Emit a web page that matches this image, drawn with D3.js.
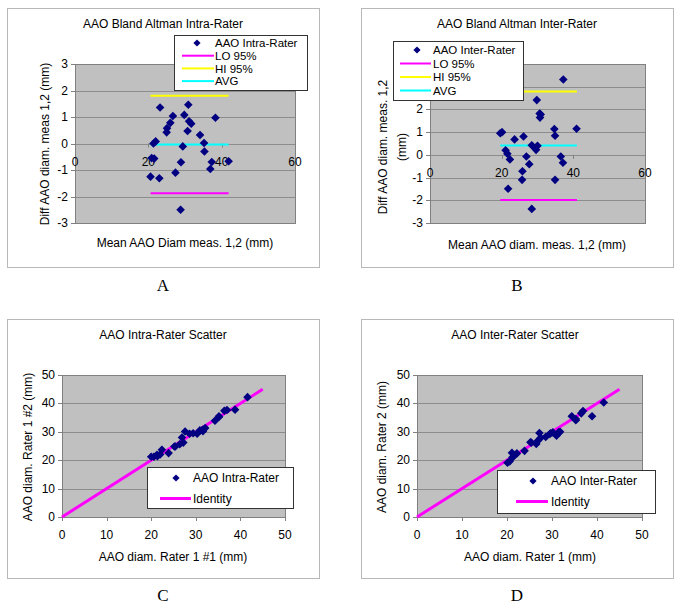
<!DOCTYPE html>
<html><head><meta charset="utf-8">
<script src="https://cdn.jsdelivr.net/npm/d3@7"></script>
<style>body{margin:0;background:#fff}svg{display:block}</style>
</head><body>
<svg id="c" width="685" height="615"></svg>
<script>
// ---------- DATA ----------
// Panel A: Bland-Altman intra-rater
const intraMean = [23.2, 30.9, 38.3, 26.7, 29.8, 26.0, 25.1, 25.0, 31.1, 31.7, 30.7, 34.1, 35.2, 35.3, 21.4, 22.0, 29.4, 20.9, 21.6, 28.9, 37.3, 41.9, 36.9, 27.4, 20.6, 23.0, 28.8];
const intraDiff = [1.36, 1.46, 0.97, 1.04, 1.08, 0.78, 0.58, 0.42, 0.84, 0.75, 0.47, 0.32, 0.02, -0.30, 0.00, 0.08, -0.11, -0.55, -0.57, -0.71, -0.70, -0.67, -0.96, -1.10, -1.25, -1.31, -2.50];
const intraLimitX = [20.6, 41.9];
const intraLimits = {lo: -1.88, hi: 1.80, avg: -0.04};
// Panel B: Bland-Altman inter-rater
const interMean = [37.2, 29.8, 30.6, 30.9, 30.7, 20.1, 19.6, 23.6, 26.1, 34.7, 34.9, 40.9, 28.4, 29.3, 30.0, 29.6, 21.1, 21.6, 22.3, 26.9, 27.7, 25.8, 25.7, 36.5, 37.1, 34.9, 21.8, 28.4];
const interDiff = [3.32, 2.41, 1.82, 1.78, 1.64, 1.00, 0.95, 0.68, 0.81, 1.14, 0.84, 1.15, 0.42, 0.30, 0.40, 0.22, 0.20, 0.05, -0.20, -0.07, -0.41, -0.72, -1.10, -0.07, -0.35, -1.10, -1.49, -2.38];
const interLimitX = [19.6, 41.0];
const interLimits = {lo: -1.99, hi: 2.79, avg: 0.41};
// Panel C: intra-rater scatter
const intraRater1a = [23.9, 31.6, 38.8, 27.2, 30.3, 26.4, 25.4, 25.2, 31.5, 32.1, 30.9, 34.3, 35.2, 35.2, 21.4, 22.0, 29.4, 20.6, 21.3, 28.6, 37.0, 41.6, 36.4, 26.9, 20.0, 22.4, 27.6];
const intraRater1b = [22.5, 30.2, 37.8, 26.2, 29.3, 25.6, 24.8, 24.8, 30.7, 31.3, 30.5, 33.9, 35.2, 35.5, 21.4, 22.0, 29.5, 21.2, 21.9, 29.3, 37.7, 42.2, 37.4, 28.0, 21.2, 23.7, 30.1];
// Panel D: inter-rater scatter
const interRater1 = [38.9, 31.0, 31.5, 31.8, 31.5, 20.6, 20.1, 23.9, 26.5, 35.3, 35.3, 41.5, 28.6, 29.5, 30.2, 29.7, 21.2, 21.6, 22.2, 26.9, 27.5, 25.4, 25.2, 36.5, 36.9, 34.4, 21.1, 27.2];
const interRater2 = [35.5, 28.6, 29.7, 30.0, 29.9, 19.6, 19.1, 23.3, 25.7, 34.1, 34.5, 40.3, 28.2, 29.2, 29.8, 29.5, 21.0, 21.6, 22.4, 26.9, 27.9, 26.2, 26.3, 36.5, 37.3, 35.5, 22.6, 29.6];
const identityX = [0, 45];
// tick labels
const baXTicks = [0, 20, 40, 60];
const intraBAYTicks = [-3, -2, -1, 0, 1, 2, 3];
const interBAYTicks = [-3, -2, -1, 0, 1, 2, 3, 4];
const scatterTicks = [0, 10, 20, 30, 40, 50];

// ---------- STYLE ----------
const FONT = "'Liberation Sans', Arial, sans-serif";
const SERIF = "'Liberation Serif', 'Times New Roman', serif";
const NAVY = "#000080", MAG = "#ff00ff", YEL = "#ffff00", CYN = "#00ffff";
const PLOTFILL = "#c0c0c0", GRID = "#8c8c8c", PLOTBORDER = "#808080";
const svg = d3.select("#c");
const diamond = r => `M0,${-r}L${r},0L0,${r}L${-r},0Z`;

function text(g, x, y, s, opt = {}) {
  const t = g.append("text").attr("x", x).attr("y", y).text(s)
    .attr("font-family", opt.family || FONT).attr("font-size", opt.size || 12)
    .attr("fill", "#000").attr("text-anchor", opt.anchor || "start");
  if (opt.rotate) t.attr("transform", `rotate(-90,${x},${y})`);
  return t;
}

function panel(cfg) {
  const g = svg.append("g");
  const f = cfg.frame;
  g.append("rect").attr("x", f[0] + .5).attr("y", f[1] + .5)
    .attr("width", f[2] - f[0]).attr("height", f[3] - f[1])
    .attr("fill", "#fff").attr("stroke", "#b8b8b8");
  const p = cfg.plot;
  const x = d3.scaleLinear().domain(cfg.xDomain).range([p.l, p.r]);
  const y = d3.scaleLinear().domain(cfg.yDomain).range([p.b, p.t]);
  g.append("rect").attr("x", p.l + .5).attr("y", p.t + .5)
    .attr("width", p.r - p.l).attr("height", p.b - p.t)
    .attr("fill", PLOTFILL).attr("stroke", "none");
  // gridlines
  cfg.yTicks.forEach(t => {
    const yy = Math.round(y(t)) + .5;
    g.append("line").attr("x1", p.l).attr("x2", p.r).attr("y1", yy).attr("y2", yy)
      .attr("stroke", GRID).attr("stroke-width", 1);
    g.append("line").attr("x1", p.l - 4).attr("x2", p.l).attr("y1", yy).attr("y2", yy)
      .attr("stroke", PLOTBORDER);
    text(g, p.l - 7, y(t) + 4, String(t), {anchor: "end"});
  });
  g.append("rect").attr("x", p.l + .5).attr("y", p.t + .5)
    .attr("width", p.r - p.l).attr("height", p.b - p.t)
    .attr("fill", "none").attr("stroke", PLOTBORDER);
  // x axis labels
  const xAxisY = cfg.xAxisAt !== undefined ? y(cfg.xAxisAt) : p.b;
  cfg.xTicks.forEach(t => {
    const xx = Math.round(x(t)) + .5;
    g.append("line").attr("x1", xx).attr("x2", xx).attr("y1", xAxisY).attr("y2", xAxisY + 4)
      .attr("stroke", PLOTBORDER);
    text(g, x(t), xAxisY + cfg.xLabelDy, String(t), {anchor: "middle"});
  });
  // titles
  text(g, cfg.titlePos[0], cfg.titlePos[1], cfg.title, {anchor: "middle"});
  text(g, cfg.xTitlePos[0], cfg.xTitlePos[1], cfg.xTitle, {anchor: "middle"});
  cfg.yTitle.forEach((s, i) => {
    text(g, cfg.yTitlePos[i][0], cfg.yTitlePos[i][1], s, {anchor: "middle", rotate: true});
  });
  text(g, cfg.letterPos[0], cfg.letterPos[1], cfg.letter, {anchor: "middle", family: SERIF, size: 17});
  return {g, x, y};
}

function legend(g, box, entries) {
  g.append("rect").attr("x", box.x + .5).attr("y", box.y + .5)
    .attr("width", box.w).attr("height", box.h)
    .attr("fill", "#fff").attr("stroke", "#333");
  entries.forEach((e, i) => {
    const yy = box.y + box.first + i * box.step;
    if (e.type === "marker") {
      g.append("path").attr("d", diamond(3.6)).attr("fill", NAVY)
        .attr("transform", `translate(${box.mx},${yy})`);
    } else {
      g.append("line").attr("x1", box.lx0).attr("x2", box.lx1).attr("y1", yy).attr("y2", yy)
        .attr("stroke", e.color).attr("stroke-width", e.width || 2);
    }
    text(g, box.tx, yy + box.fs * 0.36, e.label, {size: box.fs});
  });
}

function baPanel(cfg, mean, diff, limX, lim) {
  const {g, x, y} = panel(cfg);
  [[lim.lo, MAG], [lim.hi, YEL], [lim.avg, CYN]].forEach(([v, c]) => {
    g.append("line").attr("x1", x(limX[0])).attr("x2", x(limX[1]))
      .attr("y1", y(v)).attr("y2", y(v)).attr("stroke", c).attr("stroke-width", 2);
  });
  g.selectAll(null).data(mean.map((m, i) => [m, diff[i]])).join("path")
    .attr("d", diamond(4.3)).attr("fill", NAVY)
    .attr("transform", d => `translate(${x(d[0])},${y(d[1])})`);
  legend(g, cfg.legend, [
    {type: "marker", label: cfg.seriesName},
    {type: "line", color: MAG, label: "LO 95%"},
    {type: "line", color: YEL, label: "HI 95%"},
    {type: "line", color: CYN, label: "AVG"}
  ]);
}

function scPanel(cfg, xs, ys) {
  const {g, x, y} = panel(cfg);
  g.append("line").attr("x1", x(identityX[0])).attr("y1", y(identityX[0]))
    .attr("x2", x(identityX[1])).attr("y2", y(identityX[1]))
    .attr("stroke", MAG).attr("stroke-width", 3);
  g.selectAll(null).data(xs.map((v, i) => [v, ys[i]])).join("path")
    .attr("d", diamond(4.3)).attr("fill", NAVY)
    .attr("transform", d => `translate(${x(d[0])},${y(d[1])})`);
  legend(g, cfg.legend, [
    {type: "marker", label: cfg.seriesName},
    {type: "line", color: MAG, label: "Identity", width: 3}
  ]);
}

// ---------- PANELS ----------
baPanel({
  frame: [7, 8, 319, 267], plot: {l: 75, t: 64, r: 295, b: 223},
  xDomain: [0, 60], yDomain: [-3, 3], xTicks: baXTicks, yTicks: intraBAYTicks,
  xAxisAt: 0, xLabelDy: 22,
  title: "AAO Bland Altman Intra-Rater", titlePos: [163, 28],
  xTitle: "Mean AAO Diam meas. 1,2 (mm)", xTitlePos: [185, 247],
  yTitle: ["Diff AAO diam. meas 1,2 (mm)"], yTitlePos: [[49, 144]],
  letter: "A", letterPos: [163, 291], seriesName: "AAO Intra-Rater",
  legend: {x: 174, y: 35, w: 133, h: 55, first: 8, step: 12.7, fs: 11.5, mx: 197, lx0: 182, lx1: 214, tx: 215}
}, intraMean, intraDiff, intraLimitX, intraLimits);

baPanel({
  frame: [361, 8, 673, 267], plot: {l: 430, t: 64, r: 645, b: 223},
  xDomain: [0, 60], yDomain: [-3, 4], xTicks: baXTicks, yTicks: interBAYTicks,
  xAxisAt: 0, xLabelDy: 22,
  title: "AAO Bland Altman Inter-Rater", titlePos: [517, 28],
  xTitle: "Mean AAO diam. meas. 1,2 (mm)", xTitlePos: [537, 249],
  yTitle: ["Diff AAO diam. meas. 1,2", "(mm)"], yTitlePos: [[387, 147], [406, 147]],
  letter: "B", letterPos: [517, 291], seriesName: "AAO Inter-Rater",
  legend: {x: 393, y: 41, w: 130, h: 59, first: 9, step: 13.5, fs: 11.5, mx: 417, lx0: 400, lx1: 431, tx: 433}
}, interMean, interDiff, interLimitX, interLimits);

scPanel({
  frame: [7, 319, 319, 578], plot: {l: 62, t: 375, r: 285, b: 517},
  xDomain: [0, 50], yDomain: [0, 50], xTicks: scatterTicks, yTicks: scatterTicks,
  xLabelDy: 22,
  title: "AAO Intra-Rater Scatter", titlePos: [163, 339],
  xTitle: "AAO diam. Rater 1 #1 (mm)", xTitlePos: [173, 561],
  yTitle: ["AAO diam. Rater 1 #2 (mm)"], yTitlePos: [[32, 447]],
  letter: "C", letterPos: [163, 601], seriesName: "AAO Intra-Rater",
  legend: {x: 147, y: 467, w: 146, h: 41, first: 11, step: 20.5, fs: 12, mx: 176, lx0: 160, lx1: 191, tx: 193}
}, intraRater1a, intraRater1b);

scPanel({
  frame: [361, 319, 673, 578], plot: {l: 417, t: 375, r: 642, b: 517},
  xDomain: [0, 50], yDomain: [0, 50], xTicks: scatterTicks, yTicks: scatterTicks,
  xLabelDy: 22,
  title: "AAO Inter-Rater Scatter", titlePos: [515, 339],
  xTitle: "AAO diam. Rater 1 (mm)", xTitlePos: [530, 561],
  yTitle: ["AAO diam. Rater 2 (mm)"], yTitlePos: [[386, 447]],
  letter: "D", letterPos: [517, 601], seriesName: "AAO Inter-Rater",
  legend: {x: 497, y: 470, w: 158, h: 43, first: 11, step: 20.5, fs: 12, mx: 533, lx0: 516, lx1: 548, tx: 551}
}, interRater1, interRater2);
</script>
</body></html>
